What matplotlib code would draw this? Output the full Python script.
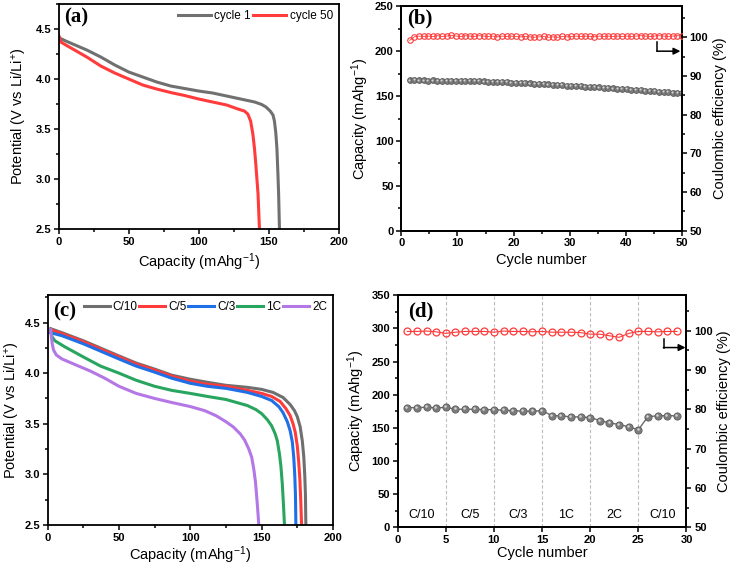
import numpy as np
import matplotlib
matplotlib.use("Agg")
import matplotlib.pyplot as plt
from matplotlib.ticker import MultipleLocator
from matplotlib.transforms import offset_copy

plt.rcParams['font.family'] = ['Liberation Sans', 'DejaVu Sans']
plt.rcParams['mathtext.default'] = 'regular'

# ---------------- data ----------------
# (a) discharge curves
a_c1_cap = [0, 0.5, 5, 10, 20, 30, 40, 50, 60, 70, 80, 90, 100, 110, 120, 130, 140,
            145, 148, 151, 153, 154, 155, 155.8, 156.5, 157, 157.6]
a_c1_v = [4.43, 4.41, 4.38, 4.35, 4.29, 4.22, 4.14, 4.07, 4.02, 3.97, 3.93, 3.905, 3.88,
          3.86, 3.83, 3.80, 3.77, 3.745, 3.72, 3.68, 3.64, 3.58, 3.46, 3.30, 3.05, 2.85, 2.5]
a_c50_cap = [0, 1.5, 5, 10, 20, 30, 40, 50, 60, 70, 80, 90, 100, 110, 120, 128, 132.6,
             135, 137, 138.6, 139.8, 140.7, 141.5, 142.3, 143.3]
a_c50_v = [4.43, 4.37, 4.34, 4.30, 4.22, 4.13, 4.06, 4.00, 3.94, 3.90, 3.865, 3.835, 3.80,
           3.77, 3.74, 3.70, 3.68, 3.65, 3.58, 3.45, 3.30, 3.15, 3.00, 2.85, 2.5]

# (b) cycling
cap_b = [167.5, 167.6, 167.4, 167.5, 167.3, 167.4, 167.2, 167.3, 167.1, 167.2,
         167.0, 166.9, 166.9, 166.7, 166.6, 166.5, 166.3, 166.2, 166.0, 165.8,
         165.6, 165.4, 165.1, 164.9, 164.6, 164.4, 164.1, 163.9, 163.6, 163.3,
         163.0, 162.7, 162.4, 162.1, 161.8, 161.5, 161.2, 160.9, 160.6, 160.2,
         159.9, 159.6, 159.3, 158.9, 158.6, 158.3, 157.9, 157.6, 157.2, 156.9,
         156.5, 156.1, 155.8, 155.4, 155.0, 154.7, 154.3, 153.9, 153.5, 153.1]
ce_b = [99.2, 100.1, 100.3, 100.2, 100.3, 100.2, 100.4, 100.2, 100.3, 100.5,
        100.3, 100.2, 100.4, 100.3, 100.2, 100.4, 100.3, 100.2, 100.3, 100.1,
        100.3, 100.2, 100.3, 100.2, 100.1, 100.2, 100.1, 100.0, 100.1, 100.2,
        100.0, 100.1, 100.0, 100.2, 100.1, 100.2, 100.3, 100.2, 100.3, 100.2,
        100.1, 100.3, 100.2, 100.3, 100.2, 100.3, 100.2, 100.3, 100.2, 100.3,
        100.4, 100.3, 100.2, 100.3, 100.4, 100.3, 100.2, 100.3, 100.4, 100.3]

# (c) rate discharge curves
c_labels = ['C/10', 'C/5', 'C/3', '1C', '2C']
c_cap = [
    [2, 10, 25, 40, 50, 62, 75, 87, 100, 112, 125, 140, 150, 158, 165, 170, 173, 175,
     177, 178.5, 179.5, 180.2, 180.7, 181],
    [2, 10, 25, 40, 50, 62, 75, 87, 100, 112, 125, 140, 150, 157, 163, 167, 170, 172,
     173.5, 175, 176, 176.8, 177.4, 178],
    [2, 10, 25, 40, 50, 62, 75, 87, 100, 112, 125, 140, 150, 157, 162, 165, 168, 170,
     171.5, 172.5, 173.2, 173.7, 174],
    [2, 3, 5, 12, 25, 37, 50, 62, 75, 87, 100, 112, 125, 140, 146, 150, 154, 157,
     159.5, 161, 162.5, 163.5, 164.5, 165.3, 166],
    [2, 3, 4, 6, 10, 20, 30, 40, 50, 62, 75, 87, 100, 110, 118, 125, 130, 135, 138,
     141, 143, 144.5, 145.7, 146.7, 147.5, 148],
]
c_v = [
    [4.44, 4.40, 4.32, 4.23, 4.17, 4.10, 4.04, 3.98, 3.94, 3.91, 3.88, 3.86, 3.84, 3.81,
     3.76, 3.69, 3.63, 3.57, 3.47, 3.33, 3.18, 3.00, 2.80, 2.5],
    [4.43, 4.39, 4.31, 4.22, 4.16, 4.09, 4.03, 3.97, 3.92, 3.89, 3.87, 3.83, 3.80, 3.77,
     3.72, 3.65, 3.58, 3.50, 3.42, 3.28, 3.12, 2.95, 2.75, 2.5],
    [4.40, 4.37, 4.29, 4.20, 4.14, 4.07, 4.01, 3.95, 3.90, 3.87, 3.85, 3.81, 3.77, 3.73,
     3.67, 3.61, 3.52, 3.43, 3.32, 3.17, 3.00, 2.80, 2.5],
    [4.43, 4.36, 4.32, 4.26, 4.16, 4.07, 4.00, 3.93, 3.87, 3.83, 3.80, 3.77, 3.74, 3.68,
     3.64, 3.60, 3.54, 3.48, 3.40, 3.33, 3.20, 3.08, 2.90, 2.70, 2.5],
    [4.43, 4.30, 4.23, 4.18, 4.14, 4.08, 4.02, 3.95, 3.87, 3.80, 3.75, 3.71, 3.67, 3.63,
     3.58, 3.52, 3.47, 3.40, 3.34, 3.25, 3.17, 3.05, 2.92, 2.75, 2.60, 2.5],
]
c_colors = ['#6f6f6f', '#ff3b3b', '#1f6fe6', '#28a55f', '#b477e6']

# (d) rate capability
cyc_d = list(range(1, 30))
cap_d = [180.5, 180.5, 181, 180, 181, 178, 178, 178, 177.5, 177.5,
         176.5, 176, 175, 175, 176, 168.5, 168, 166.5, 166.5, 165.5,
         161, 157.5, 155, 151.5, 147, 167, 168, 168.5, 168]
ce_d = [99.8, 99.8, 99.9, 99.7, 99.3, 99.6, 99.8, 99.8, 99.8, 99.6,
        99.9, 99.8, 99.8, 99.7, 99.8, 99.6, 99.6, 99.6, 99.5, 99.1,
        99.1, 98.7, 98.3, 99.3, 99.8, 99.8, 99.7, 99.8, 99.8]
d_rates = ['C/10', 'C/5', 'C/3', '1C', '2C', 'C/10']
d_rate_x = [2.5, 7.5, 12.5, 17.5, 22.5, 27.5]
d_bounds = [5, 10, 15, 20, 25]

# ---------------- figure ----------------
fig = plt.figure(figsize=(7.35, 5.7), dpi=100)
axA = fig.add_axes([0.080, 0.598, 0.381, 0.395])
axB = fig.add_axes([0.546, 0.595, 0.382, 0.394])
axC = fig.add_axes([0.065, 0.079, 0.388, 0.403])
axD = fig.add_axes([0.541, 0.075, 0.393, 0.407])

TICKFS = 8
LABFS = 10.5

def style(ax, right=False):
    for s in ax.spines.values():
        s.set_linewidth(1.3)
    ax.tick_params(which='both', direction='out', labelsize=TICKFS, width=1.1, pad=2)
    ax.tick_params(which='major', length=3.5)
    ax.tick_params(which='minor', length=2)
    if not right:
        ax.tick_params(which='both', top=False, right=False)
    for lab in ax.get_xticklabels() + ax.get_yticklabels():
        lab.set_fontweight('bold')

def panel_label(ax, txt, x=0.02, y=0.985):
    ax.text(x, y, txt, transform=ax.transAxes, ha='left', va='top',
            fontsize=15, fontweight='bold', family=['Liberation Serif', 'DejaVu Serif'])

def spheres(ax, x, y, ms, lw_line=0.8):
    ax.plot(x, y, '-', color='#6a6a6a', lw=lw_line, zorder=2)
    ax.plot(x, y, 'o', ms=ms, mfc='#7c7c7c', mec='#5c5c5c', mew=0.6, zorder=3)
    tr = offset_copy(ax.transData, fig=fig, x=-0.6, y=0.6, units='points')
    ax.plot(x, y, 'o', ms=ms * 0.35, mfc='#d6d6d6', mec='none', transform=tr, zorder=4)

# (a)
axA.plot(a_c1_cap, a_c1_v, color='#707070', lw=2.2, label='cycle 1')
axA.plot(a_c50_cap, a_c50_v, color='#ff3b3b', lw=2.2, label='cycle 50')
axA.set_xlim(0, 200)
axA.set_ylim(2.5, 4.75)
axA.xaxis.set_major_locator(MultipleLocator(50))
axA.xaxis.set_minor_locator(MultipleLocator(25))
axA.yaxis.set_major_locator(MultipleLocator(0.5))
axA.yaxis.set_minor_locator(MultipleLocator(0.25))
axA.set_xlabel('Capacity (mAhg$^{-1}$)', fontsize=LABFS, labelpad=3)
axA.set_ylabel('Potential (V vs Li/Li$^{+}$)', fontsize=LABFS, labelpad=5)
axA.legend(loc='upper right', ncol=2, frameon=False, fontsize=8.5, handlelength=2.8,
           handletextpad=0.3, columnspacing=0.2, borderaxespad=0.3, borderpad=0.2)
style(axA)
panel_label(axA, '(a)')

# (b)
xb = np.linspace(1.5, 50, len(cap_b))
spheres(axB, xb, cap_b, 4.2, lw_line=0.6)
axB.set_xlim(0, 50)
axB.set_ylim(0, 250)
axB.xaxis.set_major_locator(MultipleLocator(10))
axB.xaxis.set_minor_locator(MultipleLocator(5))
axB.yaxis.set_major_locator(MultipleLocator(50))
axB.yaxis.set_minor_locator(MultipleLocator(25))
axB.set_xlabel('Cycle number', fontsize=LABFS, labelpad=3)
axB.set_ylabel('Capacity (mAhg$^{-1}$)', fontsize=LABFS, labelpad=3)
style(axB)
axB2 = axB.twinx()
axB2.plot(xb, ce_b, '-', color='#ff3b3b', lw=0.6, zorder=2)
axB2.plot(xb, ce_b, 'o', ms=4.0, mfc='none', mec='#ff3b3b', mew=0.8, zorder=3)
axB2.set_ylim(50, 108)
axB2.yaxis.set_major_locator(MultipleLocator(10))
axB2.yaxis.set_minor_locator(MultipleLocator(5))
axB2.set_ylabel('Coulombic efficiency (%)', fontsize=LABFS, labelpad=3)
style(axB2, right=True)
axB2.tick_params(which='both', top=False, left=False)
axB2.plot([45.6, 45.6], [98.8, 96.4], color='black', lw=1.1)
axB2.annotate('', xy=(49.7, 96.4), xytext=(45.5, 96.4),
              arrowprops=dict(arrowstyle='-|>', color='black', lw=1.1, mutation_scale=10,
                              shrinkA=0, shrinkB=0))
panel_label(axB, '(b)', x=0.02, y=0.99)

# (c)
for xs, ys, lab, col in zip(c_cap, c_v, c_labels, c_colors):
    axC.plot(xs, ys, color=col, lw=2.2, label=lab)
axC.set_xlim(0, 200)
axC.set_ylim(2.5, 4.77)
axC.xaxis.set_major_locator(MultipleLocator(50))
axC.xaxis.set_minor_locator(MultipleLocator(25))
axC.yaxis.set_major_locator(MultipleLocator(0.5))
axC.yaxis.set_minor_locator(MultipleLocator(0.25))
axC.set_xlabel('Capacity (mAhg$^{-1}$)', fontsize=LABFS, labelpad=1)
axC.set_ylabel('Potential (V vs Li/Li$^{+}$)', fontsize=LABFS, labelpad=2)
axC.legend(loc='upper right', ncol=5, frameon=False, fontsize=8.5, handlelength=2.2,
           handletextpad=0.25, columnspacing=0.15, borderaxespad=0.3, borderpad=0.2)
style(axC)
panel_label(axC, '(c)', x=0.02, y=0.975)

# (d)
for b in d_bounds:
    axD.axvline(b, color='#bdbdbd', lw=0.8, ls=(0, (3, 2)), zorder=1)
spheres(axD, cyc_d, cap_d, 5.2, lw_line=1.0)
for xr, t in zip(d_rate_x, d_rates):
    axD.text(xr, 18, t, ha='center', va='center', fontsize=9)
axD.set_xlim(0, 30)
axD.set_ylim(0, 350)
axD.xaxis.set_major_locator(MultipleLocator(5))
axD.yaxis.set_major_locator(MultipleLocator(50))
axD.yaxis.set_minor_locator(MultipleLocator(25))
axD.set_xlabel('Cycle number', fontsize=LABFS, labelpad=1)
axD.set_ylabel('Capacity (mAhg$^{-1}$)', fontsize=LABFS, labelpad=3)
style(axD)
axD2 = axD.twinx()
axD2.plot(cyc_d, ce_d, '-', color='#ff3b3b', lw=0.8, zorder=2)
axD2.plot(cyc_d, ce_d, 'o', ms=5.0, mfc='none', mec='#ff3b3b', mew=0.9, zorder=3)
axD2.set_ylim(50, 109)
axD2.yaxis.set_major_locator(MultipleLocator(10))
axD2.yaxis.set_minor_locator(MultipleLocator(5))
axD2.set_ylabel('Coulombic efficiency (%)', fontsize=LABFS, labelpad=3)
style(axD2, right=True)
axD2.tick_params(which='both', top=False, left=False)
axD2.plot([27.7, 27.7], [97.8, 95.7], color='black', lw=1.1)
axD2.annotate('', xy=(29.9, 95.7), xytext=(27.6, 95.7),
              arrowprops=dict(arrowstyle='-|>', color='black', lw=1.1, mutation_scale=10,
                              shrinkA=0, shrinkB=0))
panel_label(axD, '(d)', x=0.035, y=0.975)

fig.savefig('out.png', dpi=100)
